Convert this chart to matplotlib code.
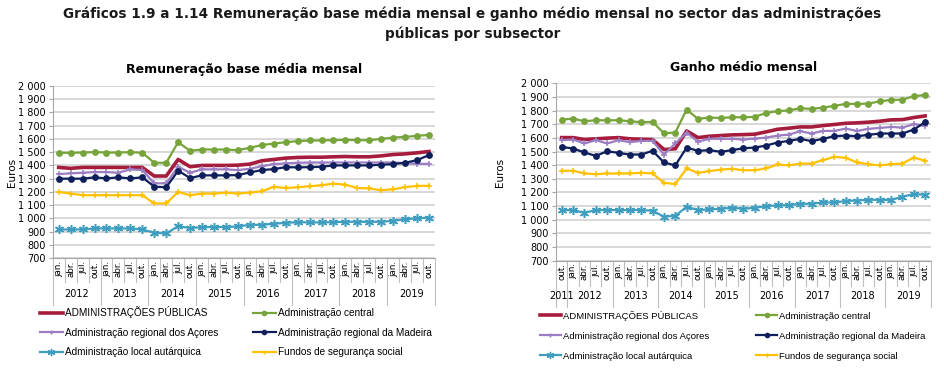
import matplotlib
matplotlib.use("Agg")
import matplotlib.pyplot as plt
from matplotlib.lines import Line2D
import matplotlib.transforms as mtransforms

# ---- data (euros) ----
months_base = ['jan.', 'abr.', 'jul.', 'out.'] * 8
years_base = [y for y in range(2012, 2020) for _ in range(4)]

ap_base = [1385, 1378, 1385, 1385, 1385, 1385, 1385, 1385, 1320, 1320, 1445, 1390,
           1400, 1400, 1400, 1402, 1410, 1435, 1445, 1455, 1460, 1462, 1462, 1465,
           1467, 1465, 1465, 1472, 1482, 1487, 1495, 1505]
ac_base = [1495, 1495, 1497, 1500, 1497, 1497, 1500, 1495, 1420, 1420, 1575, 1510,
           1520, 1520, 1520, 1515, 1533, 1553, 1565, 1575, 1583, 1588, 1588, 1590,
           1593, 1590, 1590, 1600, 1610, 1615, 1623, 1630]
acores_base = [1335, 1340, 1345, 1350, 1350, 1345, 1370, 1365, 1265, 1265, 1390, 1345,
               1370, 1370, 1370, 1365, 1374, 1394, 1410, 1415, 1420, 1422, 1422, 1422,
               1422, 1422, 1422, 1422, 1422, 1417, 1412, 1412]
madeira_base = [1300, 1300, 1300, 1310, 1302, 1310, 1302, 1310, 1240, 1235, 1360, 1305,
                1325, 1325, 1325, 1327, 1347, 1365, 1372, 1387, 1385, 1387, 1390, 1400,
                1400, 1400, 1400, 1405, 1410, 1420, 1440, 1478]
local_base = [917, 917, 917, 925, 925, 925, 925, 917, 892, 887, 942, 927,
              935, 935, 935, 940, 952, 952, 960, 967, 972, 970, 970, 972,
              975, 975, 975, 975, 982, 995, 1000, 1007]
fundos_base = [1200, 1188, 1175, 1175, 1175, 1175, 1175, 1175, 1113, 1113, 1200, 1175,
               1188, 1188, 1195, 1188, 1195, 1205, 1238, 1230, 1235, 1243, 1250, 1263,
               1255, 1230, 1226, 1213, 1220, 1236, 1246, 1246]

months_ganho = ['out.'] + ['jan.', 'abr.', 'jul.', 'out.'] * 8
years_ganho = [2011] + [y for y in range(2012, 2020) for _ in range(4)]

ap_ganho = [1602, 1602, 1588, 1593, 1598, 1602, 1593, 1590, 1588, 1515, 1520, 1651, 1602,
            1612, 1617, 1622, 1624, 1627, 1644, 1663, 1671, 1680, 1680, 1690, 1698,
            1707, 1710, 1715, 1722, 1732, 1734, 1749, 1761]
ac_ganho = [1734, 1741, 1722, 1729, 1729, 1729, 1722, 1715, 1717, 1634, 1639, 1807, 1739,
            1749, 1746, 1751, 1751, 1754, 1783, 1795, 1802, 1817, 1812, 1822, 1834,
            1849, 1849, 1851, 1868, 1878, 1880, 1905, 1915]
acores_ganho = [1583, 1588, 1559, 1583, 1559, 1583, 1568, 1578, 1578, 1478, 1559, 1637, 1573,
                1593, 1593, 1593, 1588, 1595, 1602, 1617, 1624, 1649, 1632, 1651, 1651,
                1668, 1651, 1666, 1673, 1680, 1676, 1700, 1688]
madeira_ganho = [1534, 1522, 1493, 1468, 1502, 1490, 1478, 1478, 1505, 1420, 1398, 1529, 1505,
                 1510, 1498, 1510, 1524, 1529, 1544, 1566, 1578, 1593, 1576, 1593, 1612,
                 1617, 1612, 1622, 1632, 1632, 1632, 1661, 1715]
local_ganho = [1071, 1071, 1051, 1071, 1071, 1071, 1071, 1071, 1066, 1022, 1029, 1095, 1071,
               1076, 1080, 1088, 1080, 1088, 1100, 1105, 1107, 1117, 1117, 1127, 1127,
               1137, 1141, 1146, 1146, 1146, 1168, 1188, 1183]
fundos_ganho = [1359, 1359, 1339, 1334, 1339, 1339, 1339, 1344, 1339, 1271, 1261, 1376, 1344,
                1356, 1368, 1373, 1363, 1363, 1376, 1405, 1398, 1412, 1412, 1437, 1461,
                1454, 1420, 1407, 1398, 1407, 1412, 1456, 1432]

names = ['ADMINISTRAÇÕES PÚBLICAS', 'Administração central',
         'Administração regional dos Açores', 'Administração regional da Madeira',
         'Administração local autárquica', 'Fundos de segurança social']

# style per series: color, linewidth, marker, markersize
styles = [
    dict(color='#A61C3C', lw=2.6, marker=None, ms=0),
    dict(color='#77A43B', lw=1.6, marker='o', ms=3.8),
    dict(color='#9B7DC4', lw=1.6, marker='+', ms=4),
    dict(color='#0E1F5B', lw=1.6, marker='o', ms=3.8),
    dict(color='#3F9EBF', lw=1.6, marker=(6, 2, 0), ms=6.5),
    dict(color='#FFC000', lw=1.6, marker='+', ms=4),
]

plt.rcParams['font.family'] = ['DejaVu Sans']
fig = plt.figure(figsize=(9.45, 3.70), dpi=100)

fig.text(0.5, 0.962, 'Gráficos 1.9 a 1.14 Remuneração base média mensal e ganho médio mensal no sector das administrações',
         ha='center', va='center', fontsize=9.8, weight='bold', color='#1a1a1a')
fig.text(0.5, 0.908, 'públicas por subsector', ha='center', va='center',
         fontsize=9.8, weight='bold', color='#1a1a1a')


def draw_panel(rect, title, months, years, series, sep_y, year_y, ylab_x):
    ax = fig.add_axes(rect)
    x = list(range(len(months)))
    for vals, st in zip(series, styles):
        ax.plot(x, vals, color=st['color'], lw=st['lw'], marker=st['marker'],
                ms=st['ms'], mew=1.1, zorder=3)
    ax.set_xlim(-0.5, len(months) - 0.5)
    ax.set_ylim(700, 2000)
    ax.set_yticks(range(700, 2001, 100))
    ax.set_yticklabels([f"{v:,}".replace(",", " ") for v in range(700, 2001, 100)],
                       fontsize=7)
    ax.grid(axis='y', color='#D6D6D6', lw=1.3)
    ax.set_axisbelow(True)
    for s in ['top', 'right']:
        ax.spines[s].set_visible(False)
    ax.spines['left'].set_color('#A6A6A6')
    ax.spines['bottom'].set_color('#A6A6A6')
    ax.tick_params(axis='y', length=3, color='#A6A6A6', pad=2)
    ax.set_xticks(x)
    ax.set_xticklabels(months, rotation=90, fontsize=6.3)
    ax.tick_params(axis='x', length=0, pad=2)
    ax.set_ylabel('Euros', fontsize=7.5)
    ax.yaxis.set_label_coords(ylab_x, 0.5)
    ax.set_title(title, fontsize=9, weight='bold', pad=9)

    # category separators and year labels
    tr = mtransforms.blended_transform_factory(ax.transData, ax.transAxes)
    for i in range(1, len(months)):
        new_year = years[i] != years[i - 1]
        y_end = year_y if new_year else sep_y
        ax.plot([i - 0.5, i - 0.5], [0, y_end], transform=tr, color='#BFBFBF',
                lw=0.8, clip_on=False)
    ax.plot([-0.5, -0.5], [0, year_y], transform=tr, color='#BFBFBF', lw=0.8, clip_on=False)
    ax.plot([len(months) - 0.5] * 2, [0, year_y], transform=tr, color='#BFBFBF',
            lw=0.8, clip_on=False)
    for yr in sorted(set(years)):
        idx = [i for i, v in enumerate(years) if v == yr]
        xc = (idx[0] + idx[-1]) / 2
        ax.text(xc, (sep_y + year_y) / 2, str(yr), transform=tr, ha='center',
                va='center', fontsize=7)
    return ax


ax1 = draw_panel([0.0558, 0.302, 0.4045, 0.466], 'Remuneração base média mensal',
                 months_base, years_base,
                 [ap_base, ac_base, acores_base, madeira_base, local_base, fundos_base],
                 -0.14, -0.27, -0.093)
ax2 = draw_panel([0.5884, 0.2954, 0.3966, 0.4795], 'Ganho médio mensal',
                 months_ganho, years_ganho,
                 [ap_ganho, ac_ganho, acores_ganho, madeira_ganho, local_ganho, fundos_ganho],
                 -0.14, -0.26, -0.136)

handles = [Line2D([], [], color=st['color'], lw=st['lw'], marker=st['marker'],
                  ms=st['ms'] * 0.8, mew=1.0) for st in styles]
order = [0, 2, 4, 1, 3, 5]
for xa, ya, fs, cs, ls in [(0.042, 0.172, 7.2, 3.5, 0.95), (0.571, 0.160, 6.8, 4.9, 1.15)]:
    fig.legend([handles[i] for i in order], [names[i] for i in order],
               loc='upper left', bbox_to_anchor=(xa, ya), ncol=2, frameon=False,
               prop={'family': 'Liberation Sans', 'size': fs},
               handlelength=2.3, handletextpad=0.2, columnspacing=cs,
               labelspacing=ls, borderpad=0, borderaxespad=0)

fig.savefig('out.png', dpi=100)
